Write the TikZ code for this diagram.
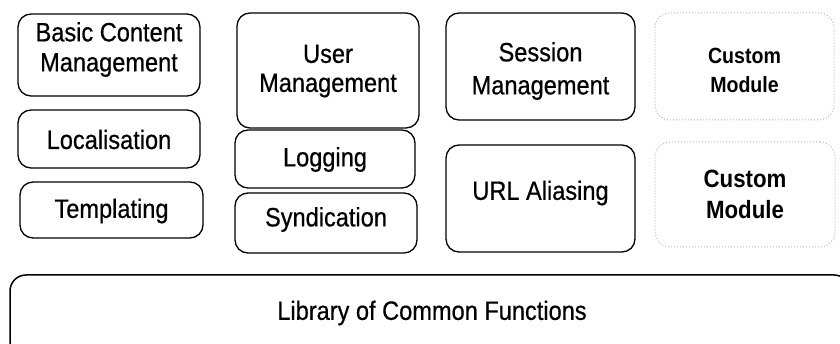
\documentclass[tikz,border=0pt]{standalone}
\usepackage{fontspec}
\setmainfont{Liberation Sans}[FakeStretch=0.89, UprightFeatures={FakeBold=0.6}]
\begin{document}
\begin{tikzpicture}[x=1pt,y=-1pt,
  box/.style={draw=black, line width=1.3pt, rounded corners=13pt, inner sep=0pt},
  cbox/.style={draw=gray!55, dotted, line width=1pt, rounded corners=15pt, inner sep=0pt},
  txt/.style={align=center, inner sep=0pt, font=\fontsize{26.5}{30}\selectfont},
  ctxt/.style={align=center, inner sep=0pt, font=\bfseries\fontsize{22}{29}\selectfont}]
\useasboundingbox (0,0) rectangle (840,344);
\begin{scope}
\clip (0,0) rectangle (840,344);
% boxes
\node[box, minimum width=182pt, minimum height=82pt] (bcm) at (109,55) {};
\node[box, minimum width=182pt, minimum height=58pt] (loc) at (109,139) {};
\node[box, minimum width=183pt, minimum height=56pt] (tmp) at (111.5,210) {};
\node[box, minimum width=182pt, minimum height=115pt] (um) at (328,70.5) {};
\node[box, minimum width=180pt, minimum height=58pt] (log) at (325,159) {};
\node[box, minimum width=182pt, minimum height=60pt] (syn) at (326,223) {};
\node[box, minimum width=189pt, minimum height=107pt] (sm) at (540.5,66.5) {};
\node[cbox, minimum width=179pt, minimum height=107pt] (cm1) at (744.5,66.5) {};
\node[box, minimum width=189pt, minimum height=107pt] (url) at (540.5,198.5) {};
\node[cbox, minimum width=180pt, minimum height=105pt] (cm2) at (745,194.5) {};
\node[box, rounded corners=16pt, minimum width=840pt, minimum height=82pt, line width=1.5pt] (lib) at (430,316) {};
% texts
\node[txt] (bcmt) at (109,49.5) {Basic Content\\Management};
\node[txt] (loct) at (109,139.5) {Localisation};
\node[txt] (tmpt) at (111.5,211) {Templating};
\node[txt, font=\fontsize{26.5}{29}\selectfont] (umt) at (328,71) {User\\Management};
\node[txt] (logt) at (325,159.5) {Logging};
\node[txt] (synt) at (326,219.5) {Syndication};
\node[txt, font=\fontsize{26.5}{33}\selectfont] (smt) at (540.5,71) {Session\\Management};
\node[ctxt] (cm1t) at (744.5,70) {Custom\\Module};
\node[txt] (urlt) at (540.5,193) {URL Aliasing};
\node[ctxt, font=\bfseries\fontsize{25}{31}\selectfont] (cm2t) at (745,194) {Custom\\Module};
\node[txt] (libt) at (432,313) {Library of Common Functions};
\end{scope}
\end{tikzpicture}
\end{document}
